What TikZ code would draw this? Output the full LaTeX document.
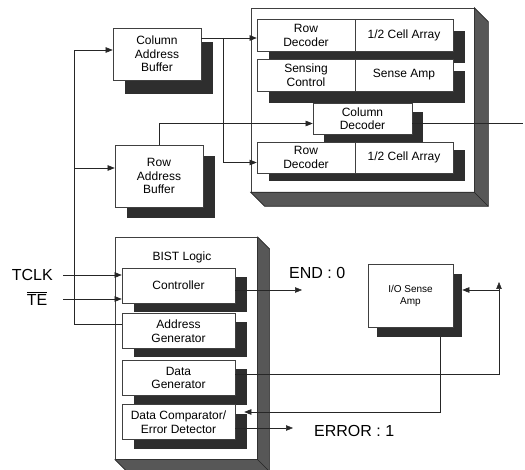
\documentclass[tikz,border=0pt]{standalone}
\usepackage{fontspec}
\setmainfont{Liberation Sans}
\usetikzlibrary{calc,math,arrows.meta,shadows}

\newcommand\barred[1]{{\setbox0\hbox{#1}\vbox{\hrule width \wd0 height 0.7pt\kern1.6pt\box0}}}

\tikzset{
  blk/.style={draw=black!75,line width=0.6pt,fill=white,align=center,inner sep=1pt,
    font=\fontsize{12}{13.5}\selectfont},
  shd/.style 2 args={drop shadow={shadow xshift=#1,shadow yshift=#2,opacity=1,fill=black!82}},
  face/.style={fill=black!66,draw=black!85,line width=0.6pt},
  wire/.style={draw=black!85,line width=0.5pt},
  arr/.style={-{Triangle[length=7pt,width=5.5pt]}},
  sig/.style={font=\fontsize{16}{18}\selectfont,inner sep=0pt}
}

\begin{document}
\begin{tikzpicture}[x=1pt,y=-1pt]
  \tikzmath{
      \dm=14;
      \db=12;
  }
  \useasboundingbox (0,0) rectangle (525,470);

  \node[blk,minimum width=223pt,minimum height=184pt] (mem) at (362.5,100) {};
  \filldraw[face] (mem.north east) -- ++(\dm,\dm) -- ($(mem.south east)+(\dm,\dm)$)
    -- ($(mem.south west)+(\dm,\dm)$) -- (mem.south west) -- (mem.south east) -- cycle;
  \draw[face] (mem.south east) -- ++(\dm,\dm);

  \node[blk,shd={12pt}{-12pt},minimum width=98pt,minimum height=32pt] (rd1) at (306,35.5) {Row\\Decoder};
  \node[blk,shd={12pt}{-12pt},minimum width=98pt,minimum height=32pt] (ca1) at (404,35.5) {1/2 Cell Array};
  \node[blk,shd={12pt}{-12pt},minimum width=98pt,minimum height=32pt] (sc) at (306,75) {Sensing\\Control};
  \node[blk,shd={12pt}{-12pt},minimum width=98pt,minimum height=32pt] (sa) at (404,75) {Sense Amp};
  \node[blk,shd={11pt}{-9pt},minimum width=99pt,minimum height=31pt] (cd) at (362.5,118.5) {Column\\Decoder};
  \node[blk,shd={12pt}{-8pt},minimum width=98pt,minimum height=31pt] (rd2) at (306,157.5) {Row\\Decoder};
  \node[blk,shd={12pt}{-8pt},minimum width=98pt,minimum height=31pt] (ca2) at (404,157.5) {1/2 Cell Array};

  \node[blk,shd={12pt}{-14pt},minimum width=88pt,minimum height=52pt] (cab) at (157,54) {Column\\Address\\Buffer};
  \node[blk,shd={12pt}{-11pt},minimum width=88pt,minimum height=62pt] (rab) at (159,176) {Row\\Address\\Buffer};

  \node[blk,minimum width=142pt,minimum height=222pt,anchor=north west] (bist) at (115,237) {};
  \filldraw[face] (bist.north east) -- ++(\db,\db) -- ($(bist.south east)+(\db,\db)$)
    -- ($(bist.south west)+(\db,\db)$) -- (bist.south west) -- (bist.south east) -- cycle;
  \draw[face] (bist.south east) -- ++(\db,\db);
  \node[font=\fontsize{12}{13.5}\selectfont] (bistlbl) at (182,257) {BIST Logic};
  \foreach \nm/\yc/\txt in {ctl/285.5/Controller, ag/331/{Address\\Generator},
      dg/378/{Data\\Generator}, dc/422/{Data Comparator/\\Error Detector}} {
    \node[blk,shd={12pt}{-9pt},minimum width=113pt,minimum height=35pt] (\nm) at (178.5,\yc) {\txt};
  }

  \node[blk,shd={9pt}{-10pt},minimum width=85pt,minimum height=63pt,
    font=\fontsize{10}{12}\selectfont] (io) at (410.5,295.5) {I/O Sense\\Amp};

  \node[sig,anchor=east] (tclk) at (53,275) {TCLK};
  \node[sig] (te) at (37,299) {\barred{TE}};
  \node[sig,anchor=west] (endlbl) at (289,273) {END : 0};
  \node[sig,anchor=west] (errlbl) at (314,431) {ERROR : 1};

  \coordinate (busT) at (74,50);
  \coordinate (busB) at ([yshift=7pt]ag.west -| busT);
  \coordinate (rabIn) at ([yshift=8pt]rab.west);
  \draw[wire] ([yshift=7pt]ag.west) -- (busB);
  \draw[wire,arr] (busB) -- (busT) -- (busT -| cab.west);
  \draw[wire,arr] (busT |- rabIn) -- (rabIn);

  \draw[wire,arr] ([xshift=10pt]tclk.east) -- (tclk.east -| ctl.west);
  \draw[wire,arr] ($(te.east -| tclk.east)+(10,0)$) -- (te.east -| ctl.west);

  \coordinate (cabOut) at ([yshift=16pt]cab.east);
  \coordinate (rd2In) at ([yshift=-5pt]rd2.west);
  \draw[wire,arr] (cabOut) -- (cabOut -| rd1.west);
  \draw[wire,arr] ($(cabOut)+(22,0)$) |- (rd2In);

  \coordinate (cdIn) at ([yshift=-5pt]cd.west);
  \coordinate (cdOut) at (523,123.5);
  \draw[wire,arr] (rab.north) |- (cdIn);
  \draw[wire] (cdOut -| cd.east) -- (cdOut);

  \coordinate (endTip) at (302,290);
  \draw[wire,arr] (endTip -| ctl.east) -- (endTip);

  \coordinate (ioUp) at (499,282);
  \coordinate (ioIn) at ($(io.east)+(9,-5.5)$);
  \draw[wire,arr] ([yshift=4pt]dg.east) -| (ioUp);
  \draw[wire,arr] (ioUp |- ioIn) -- (ioIn);

  \coordinate (ioOut) at ($(io.south)+(29.5,10)$);
  \coordinate (dcIn) at ($([yshift=10pt]dc.east)+(9,0)$);
  \draw[wire,arr] (ioOut) |- (dcIn);

  \coordinate (errTip) at (293,428);
  \draw[wire,arr] (errTip -| dc.east) -- (errTip);
\end{tikzpicture}
\end{document}
